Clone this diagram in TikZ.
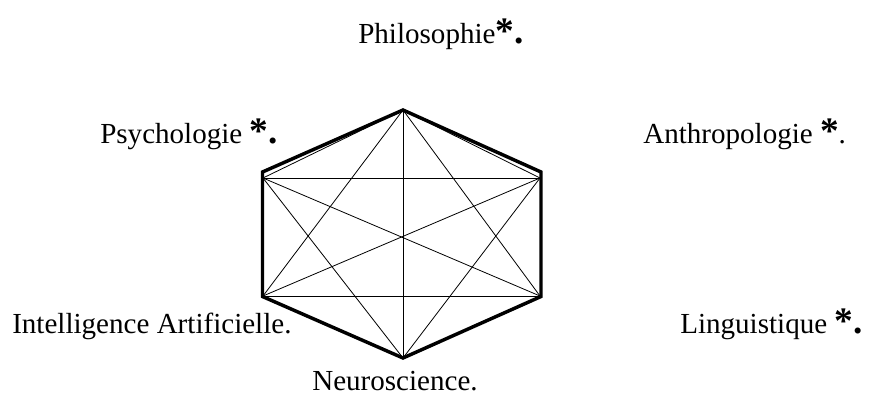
\documentclass[tikz,border=0pt]{standalone}
\usepackage{fontspec}
\setmainfont{Liberation Serif}
\newcommand\bigast{{\fontsize{28}{30}\selectfont\bfseries *}}
\newcommand\bigdot{{\fontsize{28}{30}\selectfont\bfseries .}}
\begin{document}
\begin{tikzpicture}[x=0.75pt,y=-0.75pt,
  lbl/.style={inner sep=0pt,anchor=base west,font=\fontsize{21.8}{26}\selectfont},
  thinline/.style={line width=0.6pt},
  thickline/.style={line width=2.6pt,line join=miter}]
\useasboundingbox (0,0) rectangle (870,396);
% outline vertices
\coordinate (T) at (403,110);
\coordinate (UL) at (262.5,172);
\coordinate (UR) at (541,172);
\coordinate (LR) at (541,296.5);
\coordinate (B) at (403,358);
\coordinate (LL) at (262.5,296.5);
% inner vertices
\coordinate (iUL) at (263,178);
\coordinate (iUR) at (540,178);
\coordinate (iLL) at (263,296);
\coordinate (iLR) at (540,296);
% thin complete graph
\foreach \a/\b in {T/B,T/iLL,T/iLR,T/iUL,T/iUR,B/iUL,B/iUR,B/iLL,B/iLR,iUL/iUR,iLL/iLR,iUL/iLR,iUR/iLL,iUL/iLL,iUR/iLR}
  \draw[thinline] (\a) -- (\b);
% thick outline
\draw[thickline] (T) -- (UR) -- (LR) -- (B) -- (LL) -- (UL) -- cycle;
% labels
\node[lbl] (phil) at (358,43) {Philosophie\bigast\bigdot};
\node[lbl] (psy) at (100,143) {Psychologie \bigast\bigdot};
\node[lbl] (anth) at (643,143) {Anthropologie \bigast.};
\node[lbl] (ia) at (12,333) {Intelligence Artificielle.};
\node[lbl] (ling) at (680,333) {Linguistique \bigast\bigdot};
\node[lbl] (neuro) at (312,390) {Neuroscience.};
\end{tikzpicture}
\end{document}
